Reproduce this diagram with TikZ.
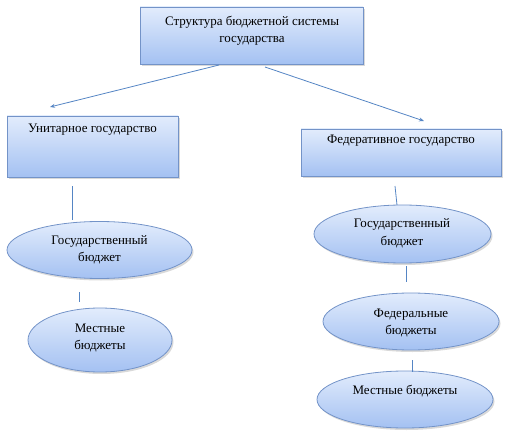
\documentclass[tikz,border=0pt]{standalone}
\usepackage{fontspec}
\setmainfont{Liberation Serif}
\newfontfamily\tnr{Liberation Serif}
\usetikzlibrary{shadows,arrows.meta,shapes.geometric}
\definecolor{gtop}{HTML}{E2ECFC}
\definecolor{gbot}{HTML}{A4C1F2}
\definecolor{bord}{HTML}{7393C8}
\definecolor{conn}{HTML}{5585C4}
\tikzset{
  boxst/.style={draw=bord, line width=0.8pt, top color=gtop, bottom color=gbot, inner sep=0pt,
    drop shadow={shadow xshift=1.5pt, shadow yshift=-2pt, opacity=0.3}},
  ellst/.style={boxst, ellipse},
  txt/.style={font=\tnr\fontsize{13}{17.5}\selectfont, text=black, align=center, inner sep=0pt},
  conline/.style={draw=conn, line width=0.8pt},
  arr/.style={conline, -{Stealth[length=5pt,width=4pt]}}
}
\begin{document}
\begin{tikzpicture}[x=1pt,y=-1pt]
\useasboundingbox (0,0) rectangle (506,441);
% boxes
\node[boxst, minimum width=223pt, minimum height=57pt] (top) at (251.5,35.5) {};
\node[txt] (topt) at (252,31) {Структура бюджетной системы\\государства};
\node[boxst, minimum width=171pt, minimum height=61pt] (uni) at (92.5,146.5) {};
\node[txt] (unit) at (92.5,130) {Унитарное государство};
\node[boxst, minimum width=200pt, minimum height=47pt] (fed) at (401,152.5) {};
\node[txt] (fedt) at (401,141) {Федеративное государство};
% left ellipses
\node[ellst, minimum width=185pt, minimum height=57pt] (l1) at (99.5,250) {};
\node[txt] (l1t) at (99.5,250) {Государственный\\бюджет};
\node[ellst, minimum width=144pt, minimum height=64pt] (l2) at (100,340) {};
\node[txt] (l2t) at (100,338) {Местные\\бюджеты};
% right ellipses
\node[ellst, minimum width=177pt, minimum height=58pt] (r1) at (402.5,234) {};
\node[txt] (r1t) at (402,233.5) {Государственный\\бюджет};
\node[ellst, minimum width=176pt, minimum height=57pt] (r2) at (411,321.5) {};
\node[txt] (r2t) at (411,323) {Федеральные\\бюджеты};
\node[ellst, minimum width=176pt, minimum height=57pt] (r3) at (405,399.5) {};
\node[txt] (r3t) at (405,391.5) {Местные бюджеты};
% connector coordinates
\coordinate (a1s) at (219,65);
\coordinate (a1e) at (50,107);
\coordinate (a2s) at (265,67);
\coordinate (a2e) at (424,121);
\coordinate (v1s) at (72,186);
\coordinate (v1e) at (72,220);
\coordinate (v2s) at (79,292);
\coordinate (v2e) at (79,302);
\coordinate (v3s) at (395,186);
\coordinate (v3e) at (397,205);
\coordinate (v4s) at (406,266);
\coordinate (v4e) at (406,282);
\coordinate (v5s) at (412,360);
\coordinate (v5e) at (412,372);
\draw[arr] (a1s) -- (a1e);
\draw[arr] (a2s) -- (a2e);
\draw[conline] (v1s) -- (v1e);
\draw[conline] (v2s) -- (v2e);
\draw[conline] (v3s) -- (v3e);
\draw[conline] (v4s) -- (v4e);
\draw[conline] (v5s) -- (v5e);
\end{tikzpicture}
\end{document}
